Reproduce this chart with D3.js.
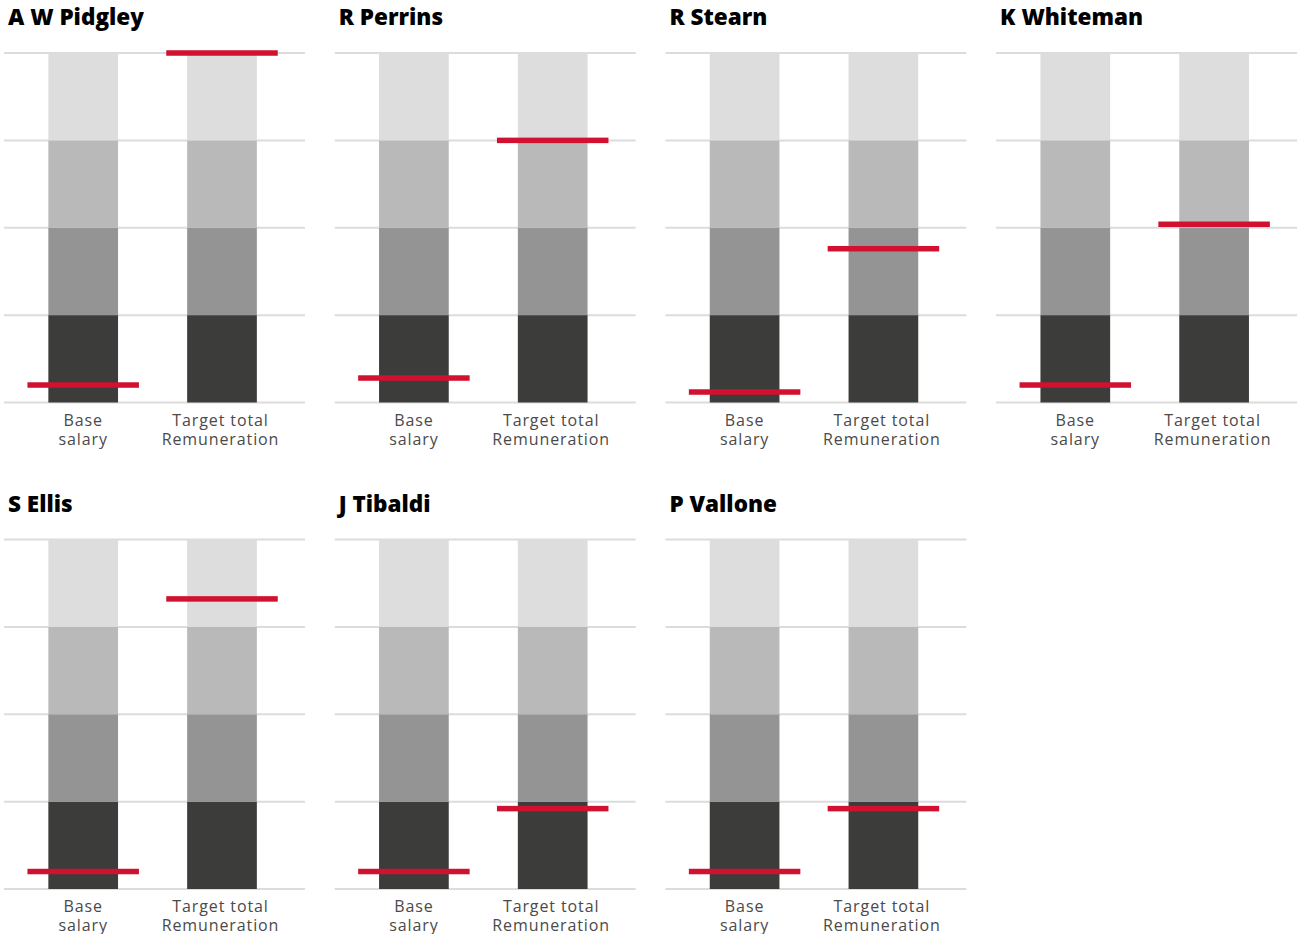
<!DOCTYPE html>
<html>
<head>
<meta charset="utf-8">
<script src="https://cdn.jsdelivr.net/npm/d3@7"></script>
<style>
  html, body { margin: 0; padding: 0; background: #fff; }
  svg { display: block; }
</style>
</head>
<body>
<svg id="chart" width="1298" height="934"></svg>
<script>
// ---- data ----
const executives = ["A W Pidgley", "R Perrins", "R Stearn", "K Whiteman", "S Ellis", "J Tibaldi", "P Vallone"];
const categories = ["Base salary", "Target total Remuneration"];
const categoryLabelLines = [["Base", "salary"], ["Target total", "Remuneration"]];
// position within the peer group, in quartile units (0 = bottom, 4 = top)
const baseSalaryPosition = [0.20, 0.28, 0.12, 0.20, 0.20, 0.20, 0.20];
const targetTotalPosition = [4.00, 3.00, 1.76, 2.04, 3.32, 0.92, 0.92];
const quartileBands = [[0, 1], [1, 2], [2, 3], [3, 4]];
const quartileTicks = [0, 1, 2, 3, 4];
const bandColors = ["#3c3c3b", "#949494", "#b9b9b9", "#dddddd"];

// ---- layout ----
const svg = d3.select("#chart");
const cols = 4;
const panelW = 301, panelH = 349.5;
const colStep = 330.7, rowStep = 486.5;
const originX = 4, originY = 53;
const barW = 69.7, markerW = 111.5;

const x = d3.scalePoint().domain(categories).range([79.2, 218]);
const y = d3.scaleLinear().domain([0, 4]).range([panelH, 0]);

executives.forEach((name, i) => {
  const col = i % cols, row = Math.floor(i / cols);
  const g = svg.append("g")
    .attr("transform", `translate(${originX + col * colStep},${originY + row * rowStep})`);

  // title
  g.append("text")
    .attr("x", 4).attr("y", -28)
    .attr("font-family", "'Open Sans', sans-serif")
    .attr("font-weight", 800)
    .attr("font-size", 22.5)
    .attr("letter-spacing", "0px")
    .attr("fill", "#000")
    .text(name);

  // grid lines
  g.selectAll("line.grid").data(quartileTicks).join("line")
    .attr("class", "grid")
    .attr("x1", 0).attr("x2", panelW)
    .attr("y1", d => y(d)).attr("y2", d => y(d))
    .attr("stroke", "#dcdcdc").attr("stroke-width", 2);

  // quartile bars
  categories.forEach(cat => {
    g.selectAll(null).data(quartileBands).join("rect")
      .attr("x", x(cat) - barW / 2)
      .attr("width", barW)
      .attr("y", d => y(d[1]))
      .attr("height", d => y(d[0]) - y(d[1]))
      .attr("fill", (d, k) => bandColors[k]);
  });

  // markers
  const values = [baseSalaryPosition[i], targetTotalPosition[i]];
  g.selectAll("rect.marker").data(categories).join("rect")
    .attr("class", "marker")
    .attr("x", d => x(d) - markerW / 2)
    .attr("width", markerW)
    .attr("y", (d, k) => y(values[k]) - 2.75)
    .attr("height", 5.5)
    .attr("fill", "#d0112f");

  // category labels
  categories.forEach((cat, k) => {
    const cx = x(cat) + (k === 0 ? 0 : -1.5);
    categoryLabelLines[k].forEach((line, j) => {
      g.append("text")
        .attr("x", cx)
        .attr("y", panelH + 23 + j * 19)
        .attr("text-anchor", "middle")
        .attr("font-family", "'Open Sans', sans-serif")
        .attr("font-weight", 400)
        .attr("font-size", 16)
        .attr("letter-spacing", "0.9px")
        .attr("fill", "#4a4a4a")
        .text(line);
    });
  });
});
</script>
</body>
</html>
